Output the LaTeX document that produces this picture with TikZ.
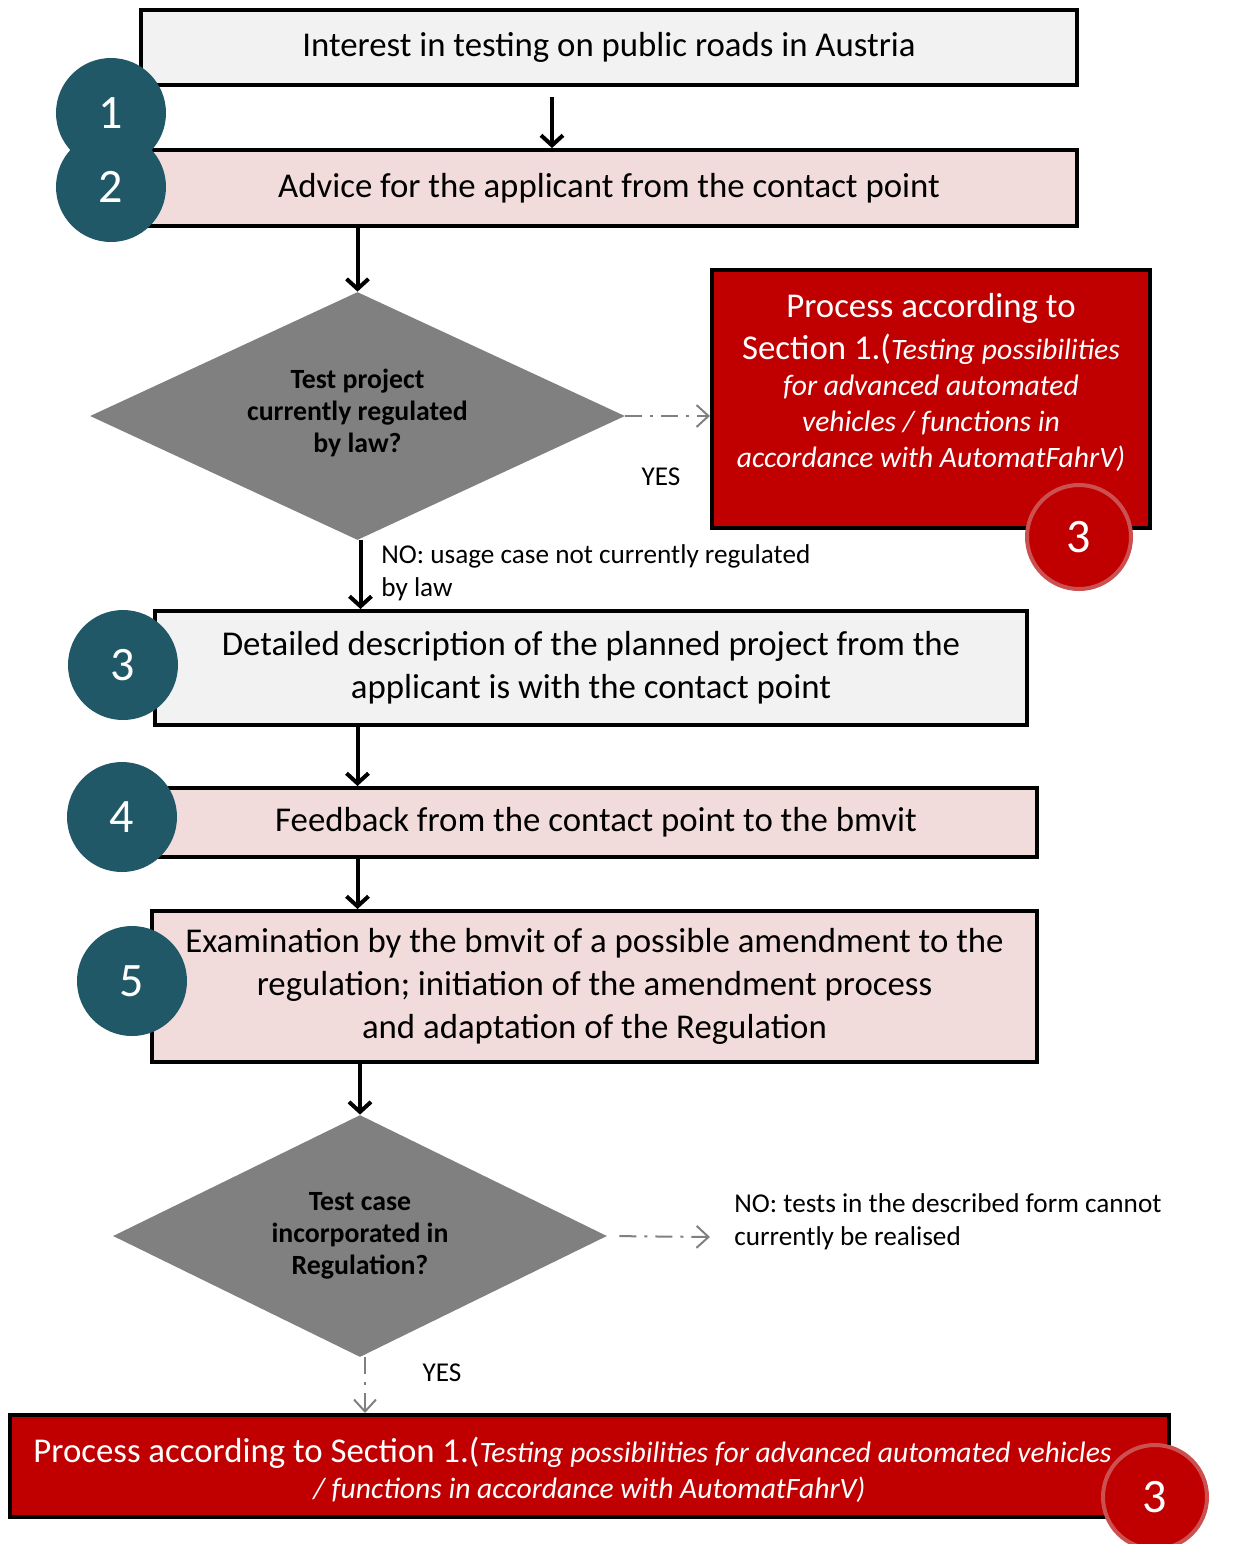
\documentclass[tikz,border=0pt]{standalone}
\usepackage{fontspec}
\setmainfont{Carlito}
\usetikzlibrary{shapes.geometric,arrows.meta,positioning}
\definecolor{numblue}{RGB}{33,88,104}
\definecolor{boxgray}{RGB}{242,242,242}
\definecolor{boxpink}{RGB}{242,220,219}
\definecolor{darkred}{RGB}{192,0,0}
\definecolor{ringred}{RGB}{204,80,80}
\definecolor{dashgray}{RGB}{128,128,128}
\tikzset{
  stepbox/.style={draw=black, line width=2pt, align=center, inner sep=0pt, font=\fontsize{17.4}{21.5}\selectfont},
  decision/.style={diamond, fill=dashgray, align=center, inner sep=0pt, font=\bfseries\fontsize{13.9}{16}\selectfont},
  num/.style={circle, fill=numblue, text=white, minimum size=55pt, inner sep=0pt, font=\fontsize{24}{28}\selectfont},
  numred/.style={circle, fill=darkred, draw=ringred, line width=2pt, text=white, minimum size=52pt, inner sep=0pt, font=\fontsize{24}{28}\selectfont},
  flow/.style={-{Straight Barb[length=5pt,width=11pt]}, line width=2pt},
  maybe/.style={-{Straight Barb[length=6pt,width=11pt]}, line width=1pt, draw=dashgray, dash pattern=on 8.5pt off 4pt on 1.5pt off 4pt},
  note/.style={align=left, inner xsep=0pt, font=\fontsize{13.6}{16.5}\selectfont},
  redtext/.style={text=white, align=center, font=\itshape\fontsize{14.8}{18}\selectfont}
}
\newcommand{\upr}[1]{{\upshape\fontsize{17.4}{21.5}\selectfont #1}}
\begin{document}
\begin{tikzpicture}[x=0.5pt,y=-0.5pt]
  \useasboundingbox (0,0) rectangle (1250,1544);

  \node[stepbox, fill=boxgray, minimum width=468pt, minimum height=37.5pt] (interest) at (609,47.5) {Interest in testing on public roads in Austria};
  \node[stepbox, fill=boxpink, minimum width=468pt, minimum height=38pt] (advice) at (609,188) {Advice for the applicant from the contact point};
  \node[decision, aspect=2.16, minimum width=267.5pt, minimum height=124pt] (regulated) at (357.5,416) {};
  \node[align=center, font=\bfseries\fontsize{13.9}{16}\selectfont] (regulatedtext) at (357.5,413) {Test project\\currently regulated\\by law?};
  \node[stepbox, fill=darkred, minimum width=219pt, minimum height=129pt] (section) at (931,399) {};
  \node[redtext] (sectiontext) at (931,382) {\upr{Process according to}\\[3pt]\upr{Section 1.(}Testing possibilities\\for advanced automated\\vehicles / functions in\\accordance with AutomatFahrV)};
  \node[stepbox, fill=boxgray, minimum width=436pt, minimum height=57pt] (describe) at (591,668) {Detailed description of the planned project from the\\applicant is with the contact point};
  \node[stepbox, fill=boxpink, minimum width=441pt, minimum height=34.5pt] (feedback) at (596,822.5) {Feedback from the contact point to the bmvit};
  \node[stepbox, fill=boxpink, minimum width=442.5pt, minimum height=75.5pt] (examine) at (594.5,986.5) {Examination by the bmvit of a possible amendment to the\\regulation; initiation of the amendment process\\and adaptation of the Regulation};
  \node[decision, aspect=2.04, minimum width=247pt, minimum height=121pt] (incorporated) at (360,1236) {Test case\\incorporated in\\Regulation?};
  \node[stepbox, fill=darkred, minimum width=579.5pt, minimum height=51pt] (final) at (589.5,1466) {};
  \node[redtext] (finaltext) at (589.5,1470) {\upr{Process according to Section 1.(}Testing possibilities for advanced automated vehicles\hspace*{17pt}\\/ functions in accordance with AutomatFahrV)};

  \node[num] (one) at (111,113) {1};
  \node[num] (two) at (111,187) {2};
  \node[num] (three) at (123,665) {3};
  \node[num] (four) at (122,817) {4};
  \node[num] (five) at (132,981) {5};
  \node[numred] (threeA) at (1079,537) {3};
  \node[numred] (threeB) at (1155,1497) {3};

  \node[note] (yesA) at (661,477) {YES};
  \node[note, anchor=west] (noA) at (381,573) {NO: usage case not currently regulated\\by law};
  \node[note, anchor=west] (noB) at (734,1222) {NO: tests in the described form cannot\\currently be realised};
  \node[note] (yesB) at (442,1373) {YES};
  \coordinate (stop) at (710,1237);

  \draw[flow] ([xshift=-28.5pt,yshift=-5pt]interest.south) -- ([xshift=-28.5pt]advice.north);
  \draw[flow] (advice.south -| regulated.north) -- (regulated.north);
  \draw[maybe] (regulated.east) -- (regulated.east -| section.west);
  \draw[flow] ([xshift=1.5pt]regulated.south) -- ([xshift=1.5pt]regulated.south |- describe.north);
  \draw[flow] (describe.south -| regulated.north) -- (feedback.north -| regulated.north);
  \draw[flow] (feedback.south -| regulated.north) -- (examine.north -| regulated.north);
  \draw[flow] (examine.south -| incorporated.north) -- (incorporated.north);
  \draw[maybe, shorten <=6pt] (incorporated.east) -- (stop);
  \draw[maybe] ([xshift=2.5pt]incorporated.south) -- ([xshift=2.5pt]incorporated.south |- final.north);
\end{tikzpicture}
\end{document}
